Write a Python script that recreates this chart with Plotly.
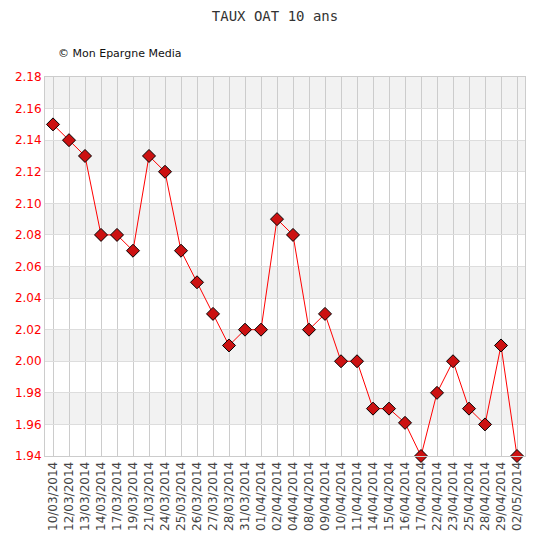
import plotly.graph_objects as go

# dates and 10-year OAT rate (%)
dates = ["10/03/2014", "12/03/2014", "13/03/2014", "14/03/2014", "17/03/2014",
         "19/03/2014", "21/03/2014", "24/03/2014", "25/03/2014", "26/03/2014",
         "27/03/2014", "28/03/2014", "31/03/2014", "01/04/2014", "02/04/2014",
         "04/04/2014", "08/04/2014", "09/04/2014", "10/04/2014", "11/04/2014",
         "14/04/2014", "15/04/2014", "16/04/2014", "17/04/2014", "22/04/2014",
         "23/04/2014", "25/04/2014", "28/04/2014", "29/04/2014", "02/05/2014"]
taux = [2.15, 2.14, 2.13, 2.08, 2.08, 2.07, 2.13, 2.12, 2.07, 2.05,
        2.03, 2.01, 2.02, 2.02, 2.09, 2.08, 2.02, 2.03, 2.00, 2.00,
        1.97, 1.97, 1.961, 1.94, 1.98, 2.00, 1.97, 1.96, 2.01, 1.94]
yticks = [1.94, 1.96, 1.98, 2.00, 2.02, 2.04, 2.06, 2.08, 2.10, 2.12, 2.14, 2.16, 2.18]

fig = go.Figure()

# alternating grey bands, top band grey
bands = []
for i in range(len(yticks) - 1, 0, -2):
    bands.append(dict(type="rect", xref="paper", yref="y", x0=0, x1=1,
                      y0=yticks[i - 1], y1=yticks[i], fillcolor="#f2f2f2",
                      line_width=0, layer="below"))

fig.add_trace(go.Scatter(
    x=dates, y=taux,
    mode="lines+markers",
    line=dict(color="#ff0000", width=1),
    marker=dict(symbol="diamond", size=10, color="#cc1111",
                line=dict(color="#000000", width=1)),
    cliponaxis=False,
    hoverinfo="x+y",
))

# page body has an 8px margin, so the figure is sized a bit smaller
fig.update_layout(
    width=521, height=524,
    margin=dict(l=37, r=4, t=69, b=76),
    paper_bgcolor="white",
    plot_bgcolor="white",
    showlegend=False,
    shapes=bands,
    title=dict(text="TAUX OAT 10 ans", x=0.5125, xanchor="center", y=0.984,
               yanchor="middle",
               font=dict(family="DejaVu Sans Mono", size=14, color="#333333")),
    annotations=[dict(text="© Mon Epargne Media", xref="paper", yref="paper",
                      x=0.023, y=1.063, xanchor="left", yanchor="middle",
                      showarrow=False,
                      font=dict(family="DejaVu Sans", size=11, color="#111111"))],
    font=dict(family="DejaVu Sans"),
)

fig.update_xaxes(
    type="category", range=[-0.5, len(dates) - 0.5],
    tickangle=-90, tickfont=dict(size=12, color="#444444"),
    showgrid=True, gridcolor="#cccccc", gridwidth=1,
    showline=True, linecolor="#cccccc", mirror=True,
    ticks="", fixedrange=True, automargin=False,
)
fig.update_yaxes(
    range=[1.94, 2.18], tickvals=yticks,
    ticktext=["%.2f" % v for v in yticks],
    tickfont=dict(size=12, color="#ff0000"),
    showgrid=True, gridcolor="#dddddd", gridwidth=1,
    showline=True, linecolor="#cccccc", mirror=True,
    zeroline=False, ticks="", fixedrange=True, automargin=False,
)

fig.write_html("out.html")
